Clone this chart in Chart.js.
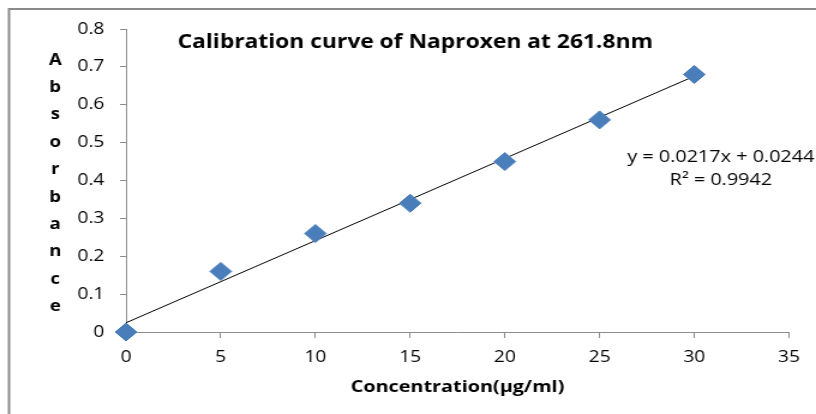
<!DOCTYPE html>
<html>
<head>
<meta charset="utf-8">
<script src="https://cdn.jsdelivr.net/npm/chart.js@4/dist/chart.umd.min.js"></script>
<style>
  html, body { margin: 0; padding: 0; background: #fff; overflow: hidden; }
  /* the original picture is stretched sideways, so draw narrow and widen it */
  #wrap { position: absolute; left: 0; top: 0; width: 680px; height: 414px;
          transform: scaleX(1.2); transform-origin: 0 0; }
</style>
</head>
<body>
<div id="wrap"><canvas id="c"></canvas></div>
<script>
// data
const concentrations = [0, 5, 10, 15, 20, 25, 30];
const absorbances = [0, 0.16, 0.26, 0.34, 0.45, 0.56, 0.68];
// linear trend line (end points of the fitted line)
const trendX = [0, 30];
const trendY = [0.0244, 0.6754];
const yTickLabels = ['0', '0.1', '0.2', '0.3', '0.4', '0.5', '0.6', '0.7', '0.8'];
const xTickLabels = ['0', '5', '10', '15', '20', '25', '30', '35'];
const titleText = 'Calibration curve of Naproxen at 261.8nm';
const yTitle = 'Absorbance';
const eqLines = ['y = 0.0217x + 0.0244', 'R² = 0.9942'];

const FONT = '"Open Sans", Lato, sans-serif';
const axisGray = '#8c8c8c';

const overlay = {
    id: 'overlay',
    beforeDraw(chart) {
        const c = chart.ctx;
        c.save();
        c.strokeStyle = '#8a8a8a';
        c.lineWidth = 2;
        c.beginPath();
        c.moveTo(7.5, 414);
        c.lineTo(7.5, 9);
        c.lineTo(chart.width, 9);
        c.stroke();
        c.restore();
    },
    afterDraw(chart) {
        const c = chart.ctx;
        const area = chart.chartArea;
        c.save();
        c.fillStyle = '#000';
        c.textAlign = 'center';
        c.textBaseline = 'middle';
        // title
        c.font = 'bold 19px ' + FONT;
        c.fillText(titleText, 346, 43);
        // stacked y axis title
        c.font = 'bold 15.5px ' + FONT;
        const letters = yTitle.split('');
        const step = 27.4;
        const mid = (area.top + area.bottom) / 2 + 3;
        letters.forEach((ch, i) => {
            c.fillText(ch, 46, mid + (i - (letters.length - 1) / 2) * step);
        });
        // equation
        c.font = '16.5px ' + FONT;
        const ex = chart.scales.x.getPixelForValue(31.4);
        const ey = chart.scales.y.getPixelForValue(0.462);
        c.fillText(eqLines[0], ex, ey);
        c.fillText(eqLines[1], ex, ey + 23);
        c.restore();
    }
};

const ctx = document.getElementById('c').getContext('2d');
const chart = new Chart(ctx, {
    type: 'scatter',
    data: {
        datasets: [{
            label: 'Trend',
            data: trendX.map((x, i) => ({x: x, y: trendY[i]})),
            showLine: true,
            borderColor: '#000',
            borderWidth: 1,
            pointRadius: 0,
            order: 2
        }, {
            label: 'Absorbance',
            data: concentrations.map((x, i) => ({x: x, y: absorbances[i]})),
            pointStyle: 'rectRot',
            pointRadius: 9,
            pointBackgroundColor: '#4a7ebb',
            pointBorderColor: '#4a7ebb',
            pointBorderWidth: 1,
            clip: false,
            order: 1
        }]
    },
    options: {
        responsive: true,
        maintainAspectRatio: false,
        animation: false,
        layout: { padding: { left: 0, top: 29, right: 22.5, bottom: 17 } },
        plugins: {
            legend: { display: false },
            tooltip: { enabled: false }
        },
        scales: {
            x: {
                type: 'linear',
                min: 0,
                max: 35,
                afterFit(scale) { scale.height = 65; },
                border: { color: axisGray, width: 1 },
                grid: { drawOnChartArea: false, drawTicks: true, tickLength: 6, color: axisGray },
                ticks: {
                    stepSize: 5,
                    padding: 10,
                    color: '#000',
                    font: { family: FONT, size: 16 },
                    callback: (v, i) => xTickLabels[i]
                },
                title: {
                    display: true,
                    text: 'Concentration(µg/ml)',
                    color: '#000',
                    font: { family: FONT, size: 16.5, weight: 'bold' },
                    padding: { top: 4, bottom: 0 }
                }
            },
            y: {
                min: 0,
                max: 0.8,
                afterFit(scale) { scale.width = 105; },
                border: { color: axisGray, width: 1 },
                grid: { drawOnChartArea: false, drawTicks: true, tickLength: 5, color: axisGray },
                ticks: {
                    stepSize: 0.1,
                    padding: 13,
                    color: '#000',
                    font: { family: FONT, size: 16 },
                    callback: (v, i) => yTickLabels[i]
                }
            }
        }
    },
    plugins: [overlay]
});
</script>
</body>
</html>
